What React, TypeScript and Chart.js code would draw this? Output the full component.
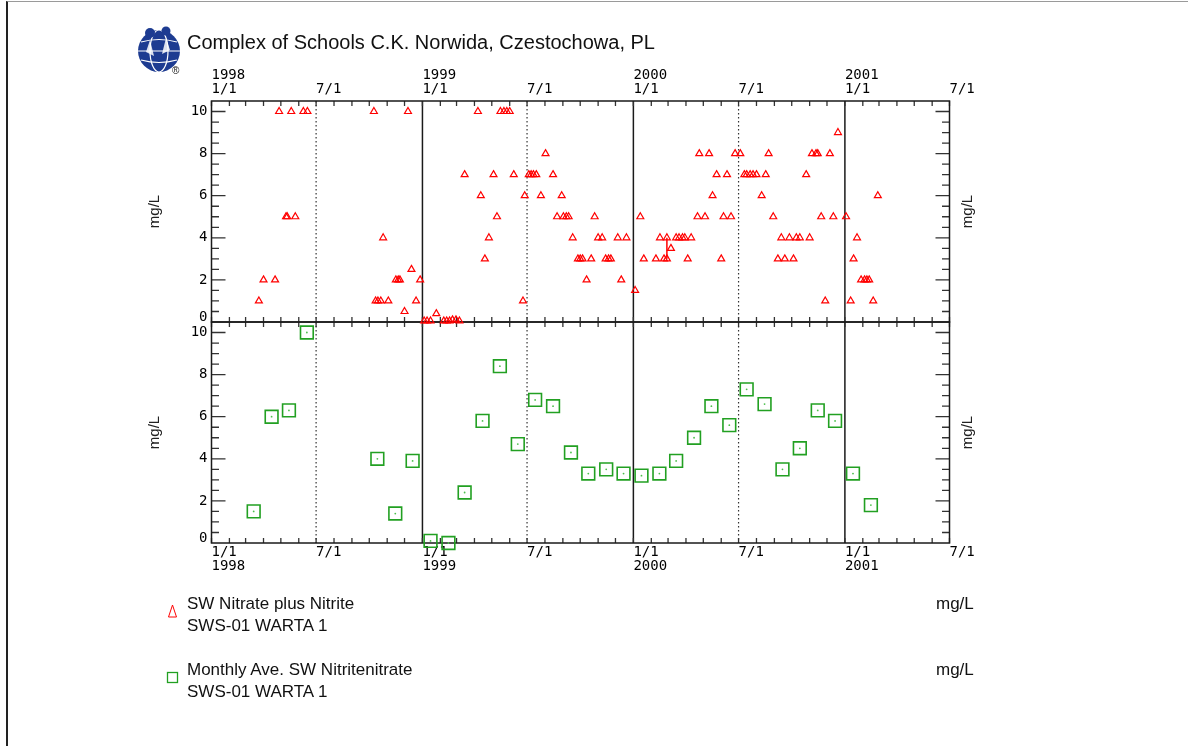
import React, { useEffect, useRef } from "react";
import { Chart, registerables } from "chart.js";
Chart.register(...registerables);

// ---------- data ----------
const xMin = "1998-01-01";
const xMax = "2001-07-01";
const xTickDates = ["1998-01-01", "1998-07-01", "1999-01-01", "1999-07-01", "2000-01-01", "2000-07-01", "2001-01-01", "2001-07-01"];
const topTickLabels: (string | string[])[] = [["1998", "1/1"], "7/1", ["1999", "1/1"], "7/1", ["2000", "1/1"], "7/1", ["2001", "1/1"], "7/1"];
const bottomTickLabels: (string | string[])[] = [["1/1", "1998"], "7/1", ["1/1", "1999"], "7/1", ["1/1", "2000"], "7/1", ["1/1", "2001"], "7/1"];
const yTickValues = [0, 2, 4, 6, 8, 10];
const yTickLabels = ["0", "2", "4", "6", "8", "10"];
const yearLineDates = ["1999-01-01", "2000-01-01", "2001-01-01"];
const halfYearLineDates = ["1998-07-01", "1999-07-01", "2000-07-01"];
const axisTitle = "mg/L";

const sampleDates = [
  "1998-03-24", "1998-04-01", "1998-04-21", "1998-04-28", "1998-05-10", "1998-05-12", "1998-05-19", "1998-05-26", "1998-06-09", "1998-06-16",
  "1998-10-09", "1998-10-12", "1998-10-16", "1998-10-21", "1998-10-25", "1998-11-03", "1998-11-16", "1998-11-20", "1998-11-23", "1998-12-01",
  "1998-12-07", "1998-12-13", "1998-12-21", "1998-12-28", "1999-01-04", "1999-01-09", "1999-01-15", "1999-01-25", "1999-02-07", "1999-02-12",
  "1999-02-17", "1999-02-22", "1999-02-28", "1999-03-06", "1999-03-15", "1999-04-07", "1999-04-12", "1999-04-19", "1999-04-26", "1999-05-04",
  "1999-05-10", "1999-05-16", "1999-05-22", "1999-05-27", "1999-06-01", "1999-06-08", "1999-06-24", "1999-06-27", "1999-07-04", "1999-07-08",
  "1999-07-12", "1999-07-17", "1999-07-25", "1999-08-02", "1999-08-15", "1999-08-22", "1999-08-30", "1999-09-02", "1999-09-07", "1999-09-11",
  "1999-09-18", "1999-09-27", "1999-10-01", "1999-10-05", "1999-10-12", "1999-10-20", "1999-10-26", "1999-11-01", "1999-11-08", "1999-11-14",
  "1999-11-19", "1999-11-23", "1999-12-05", "1999-12-11", "1999-12-20", "2000-01-04", "2000-01-13", "2000-01-19", "2000-02-09", "2000-02-16",
  "2000-02-23", "2000-02-28", "2000-02-28", "2000-03-06", "2000-03-15", "2000-03-20", "2000-03-26", "2000-03-30", "2000-04-04", "2000-04-10",
  "2000-04-21", "2000-04-24", "2000-05-04", "2000-05-11", "2000-05-17", "2000-05-24", "2000-06-01", "2000-06-05", "2000-06-11", "2000-06-18",
  "2000-06-25", "2000-07-04", "2000-07-11", "2000-07-15", "2000-07-21", "2000-07-26", "2000-08-01", "2000-08-10", "2000-08-17", "2000-08-22",
  "2000-08-30", "2000-09-07", "2000-09-13", "2000-09-19", "2000-09-27", "2000-10-04", "2000-10-09", "2000-10-15", "2000-10-26", "2000-11-01",
  "2000-11-05", "2000-11-12", "2000-11-15", "2000-11-21", "2000-11-28", "2000-12-06", "2000-12-12", "2000-12-20", "2001-01-03", "2001-01-11",
  "2001-01-16", "2001-01-22", "2001-01-29", "2001-02-04", "2001-02-08", "2001-02-12", "2001-02-19", "2001-02-27",
];
const sampleValues = [
  1, 2, 2, 10, 5, 5, 10, 5, 10, 10,
  10, 1, 1, 1, 4, 1, 2, 2, 2, 0.5,
  10, 2.5, 1, 2, 0.05, 0.05, 0.05, 0.4, 0.05, 0.05,
  0.05, 0.1, 0.1, 0.05, 7, 10, 6, 3, 4, 7,
  5, 10, 10, 10, 10, 7, 1, 6, 7, 7,
  7, 7, 6, 8, 7, 5, 6, 5, 5, 5,
  4, 3, 3, 3, 2, 3, 5, 4, 4, 3,
  3, 3, 4, 2, 4, 1.5, 5, 3, 3, 4,
  3, 4, 3, 3.5, 4, 4, 4, 4, 3, 4,
  5, 8, 5, 8, 6, 7, 3, 5, 7, 5,
  8, 8, 7, 7, 7, 7, 7, 6, 7, 8,
  5, 3, 4, 3, 4, 3, 4, 4, 7, 4,
  8, 8, 8, 5, 1, 8, 5, 9, 5, 1,
  3, 4, 2, 2, 2, 2, 1, 6,
];
const linkDates = ["2000-02-28", "2000-02-28"];
const linkValues = [4, 3];

const monthlyDates = [
  "1998-03-15", "1998-04-15", "1998-05-15", "1998-06-15", "1998-10-15", "1998-11-15", "1998-12-15",
  "1999-01-15", "1999-02-15", "1999-03-15", "1999-04-15", "1999-05-15", "1999-06-15", "1999-07-15", "1999-08-15",
  "1999-09-15", "1999-10-15", "1999-11-15", "1999-12-15", "2000-01-15", "2000-02-15", "2000-03-15", "2000-04-15",
  "2000-05-15", "2000-06-15", "2000-07-15", "2000-08-15", "2000-09-15", "2000-10-15", "2000-11-15", "2000-12-15",
  "2001-01-15", "2001-02-15",
];
const monthlyValues = [
  1.5, 6.0, 6.3, 10.0, 4.0, 1.4, 3.9,
  0.1, 0.0, 2.4, 5.8, 8.4, 4.7, 6.8, 6.5,
  4.3, 3.3, 3.5, 3.3, 3.2, 3.3, 3.9, 5.0,
  6.5, 5.6, 7.3, 6.6, 3.5, 4.5, 6.3, 5.8,
  3.3, 1.8,
];

// ---------- helpers ----------
const toMs = (d: string) => Date.parse(d + "T00:00:00Z");
const pts = (dates: string[], vals: number[]) => dates.map((d, i) => ({ x: toMs(d), y: vals[i] }));

const RED = "#ff0000";
const GREEN = "#22a022";
const INK = "#1a1a1a";

const panelDecor = {
  id: "panelDecor",
  beforeDatasetsDraw(chart: any) {
    const { ctx, chartArea: a } = chart;
    const xs = chart.scales.x;
    const ys = chart.scales.y;
    ctx.save();
    // half-year dotted lines
    ctx.strokeStyle = "#333";
    ctx.lineWidth = 1.2;
    ctx.setLineDash([1.5, 2.5]);
    for (const d of halfYearLineDates) {
      const px = xs.getPixelForValue(toMs(d));
      ctx.beginPath();
      ctx.moveTo(px, a.top);
      ctx.lineTo(px, a.bottom);
      ctx.stroke();
    }
    ctx.setLineDash([]);
    // year solid lines
    ctx.strokeStyle = INK;
    ctx.lineWidth = 1.5;
    for (const d of yearLineDates) {
      const px = xs.getPixelForValue(toMs(d));
      ctx.beginPath();
      ctx.moveTo(px, a.top);
      ctx.lineTo(px, a.bottom);
      ctx.stroke();
    }
    // monthly inner ticks (top and bottom edges)
    ctx.strokeStyle = "#333";
    ctx.lineWidth = 1.3;
    const end = toMs(xMax);
    for (let y = 1998; y <= 2001; y++) {
      for (let m = 0; m < 12; m++) {
        const t = Date.UTC(y, m, 1);
        if (t > end) break;
        const px = xs.getPixelForValue(t);
        ctx.beginPath();
        ctx.moveTo(px, a.top);
        ctx.lineTo(px, a.top + 5);
        ctx.moveTo(px, a.bottom);
        ctx.lineTo(px, a.bottom - 5);
        ctx.stroke();
      }
    }
    // y inner ticks (left and right)
    for (let v = 0.5; v < 10.5; v += 0.5) {
      const py = ys.getPixelForValue(v);
      const len = Math.abs(v % 2) < 1e-9 ? 14 : 7.5;
      ctx.beginPath();
      ctx.moveTo(a.left, py);
      ctx.lineTo(a.left + len, py);
      ctx.moveTo(a.right, py);
      ctx.lineTo(a.right - len, py);
      ctx.stroke();
    }
    // frame
    ctx.strokeStyle = INK;
    ctx.lineWidth = 1.5;
    ctx.strokeRect(a.left, a.top, a.right - a.left, a.bottom - a.top);
    // axis titles
    ctx.fillStyle = "#222";
    ctx.font = "15px 'Liberation Sans', Arial, sans-serif";
    ctx.textAlign = "center";
    ctx.textBaseline = "middle";
    const cy = (a.top + a.bottom) / 2;
    for (const cx of [155, 968]) {
      ctx.save();
      ctx.translate(cx, cy);
      ctx.rotate(-Math.PI / 2);
      ctx.fillText(axisTitle, 0, 0);
      ctx.restore();
    }
    ctx.restore();
  },
};

function makeConfig(panel: "top" | "bottom"): any {
  const isTop = panel === "top";
  const datasets: any[] = isTop
    ? [
        {
          data: pts(sampleDates, sampleValues),
          pointStyle: "triangle",
          pointRadius: 4,
          pointBorderWidth: 1.2,
          pointBorderColor: RED,
          pointBackgroundColor: "rgba(0,0,0,0)",
          showLine: false,
          clip: false,
        },
        {
          data: pts(linkDates, linkValues),
          showLine: true,
          borderColor: RED,
          borderWidth: 1.5,
          pointRadius: 0,
          clip: false,
        },
      ]
    : [
        {
          data: pts(monthlyDates, monthlyValues),
          pointStyle: "rect",
          pointRadius: 9,
          pointBorderWidth: 1.6,
          pointBorderColor: GREEN,
          pointBackgroundColor: "rgba(0,0,0,0)",
          showLine: false,
          clip: false,
        },
        {
          data: pts(monthlyDates, monthlyValues),
          pointStyle: "circle",
          pointRadius: 0.9,
          pointBorderWidth: 0,
          pointBackgroundColor: "#4cbf4c",
          showLine: false,
          clip: false,
        },
      ];
  const tickFont = { family: "'DejaVu Sans Mono', monospace", size: 14, lineHeight: 1 };
  return {
    type: "scatter",
    data: { datasets },
    options: {
      animation: false,
      responsive: false,
      events: [],
      layout: {
        padding: isTop
          ? { left: 0, right: 238.5, top: 0, bottom: 424 }
          : { left: 0, right: 238.5, top: 322, bottom: 0 },
      },
      plugins: { legend: { display: false }, tooltip: { enabled: false } },
      scales: {
        x: {
          type: "linear",
          position: isTop ? "top" : "bottom",
          min: toMs(xMin),
          max: toMs(xMax),
          afterBuildTicks: (s: any) => {
            s.ticks = xTickDates.map((d) => ({ value: toMs(d) }));
          },
          afterFit: (s: any) => {
            s.height = isTop ? 101 : 203;
          },
          grid: { display: false, drawTicks: false },
          border: { display: false },
          ticks: {
            autoSkip: false,
            maxRotation: 0,
            minRotation: 0,
            align: "start",
            padding: isTop ? 5 : 2,
            color: "#000",
            font: tickFont,
            callback: (_v: any, i: number) => (isTop ? topTickLabels : bottomTickLabels)[i],
          },
        },
        y: {
          type: "linear",
          position: "left",
          min: 0,
          max: 10.5,
          afterBuildTicks: (s: any) => {
            s.ticks = yTickValues.map((v) => ({ value: v }));
          },
          afterFit: (s: any) => {
            s.width = 211.5;
          },
          grid: { display: false, drawTicks: false },
          border: { display: false },
          ticks: {
            padding: 4,
            color: "#000",
            font: { family: "'DejaVu Sans Mono', monospace", size: 14, lineHeight: 0.6 },
            callback: (_v: any, i: number) => (i === 0 ? [yTickLabels[0], ""] : yTickLabels[i]),
          },
        },
      },
    },
    plugins: [panelDecor],
  };
}

const textFont = "'Liberation Sans', Arial, Helvetica, sans-serif";

export default function App() {
  const topRef = useRef<HTMLCanvasElement>(null);
  const botRef = useRef<HTMLCanvasElement>(null);

  useEffect(() => {
    const bot = new Chart(botRef.current as HTMLCanvasElement, makeConfig("bottom"));
    const top = new Chart(topRef.current as HTMLCanvasElement, makeConfig("top"));
    return () => {
      top.destroy();
      bot.destroy();
    };
  }, []);

  const abs: React.CSSProperties = { position: "absolute", left: 0, top: 0 };
  const legendText: React.CSSProperties = {
    position: "absolute",
    fontFamily: textFont,
    fontSize: 17,
    lineHeight: "22px",
    color: "#111",
    whiteSpace: "nowrap",
  };

  return (
    <div style={{ position: "absolute", left: 0, top: 0, width: 1188, height: 746, background: "#fff", overflow: "hidden" }}>
      <div
        style={{
          position: "absolute",
          left: 6,
          top: 1,
          width: 1182,
          height: 745,
          boxSizing: "border-box",
          borderTop: "1px solid #9a9a9a",
          borderLeft: "2px solid #222",
        }}
      />
      <canvas ref={botRef} width={1188} height={746} style={abs} />
      <canvas ref={topRef} width={1188} height={746} style={abs} />
      <svg width={1188} height={746} style={{ ...abs, pointerEvents: "none" }}>
        <g>
          <circle cx={159} cy={51} r={21} fill="#1d3b91" />
          <ellipse cx={159} cy={51} rx={9} ry={21} fill="none" stroke="#fff" strokeWidth={1.2} />
          <line x1={138} y1={51} x2={180} y2={51} stroke="#fff" strokeWidth={1.2} />
          <path d="M141 42 Q159 37 177 42" fill="none" stroke="#fff" strokeWidth={1.1} />
          <path d="M141 60 Q159 65 177 60" fill="none" stroke="#fff" strokeWidth={1.1} />
          <circle cx={150} cy={33} r={5} fill="#1d3b91" />
          <circle cx={166} cy={31} r={4.5} fill="#1d3b91" />
          <path d="M150 40 L146 52 L154 56 Z" fill="#fff" opacity={0.85} />
          <path d="M166 38 L170 50 L162 54 Z" fill="#fff" opacity={0.85} />
        </g>
        <text x={172} y={74} fontSize={10} fontFamily={textFont} fill="#111">®</text>
        <polygon points="168.5,617 176.5,617 172.5,605" fill="none" stroke={RED} strokeWidth={1} />
        <rect x={167.5} y={672.5} width={10} height={10} fill="none" stroke={GREEN} strokeWidth={1.3} />
      </svg>
      <div
        style={{
          position: "absolute",
          left: 187,
          top: 30.4,
          fontFamily: textFont,
          fontSize: 20,
          lineHeight: "24px",
          color: "#111",
          whiteSpace: "nowrap",
        }}
      >
        Complex of Schools C.K. Norwida, Czestochowa, PL
      </div>
      <div style={{ ...legendText, left: 187, top: 593 }}>
        <div>SW Nitrate plus Nitrite</div>
        <div>SWS-01 WARTA 1</div>
      </div>
      <div style={{ ...legendText, left: 936, top: 593 }}>mg/L</div>
      <div style={{ ...legendText, left: 187, top: 659 }}>
        <div>Monthly Ave. SW Nitritenitrate</div>
        <div>SWS-01 WARTA 1</div>
      </div>
      <div style={{ ...legendText, left: 936, top: 659 }}>mg/L</div>
    </div>
  );
}
